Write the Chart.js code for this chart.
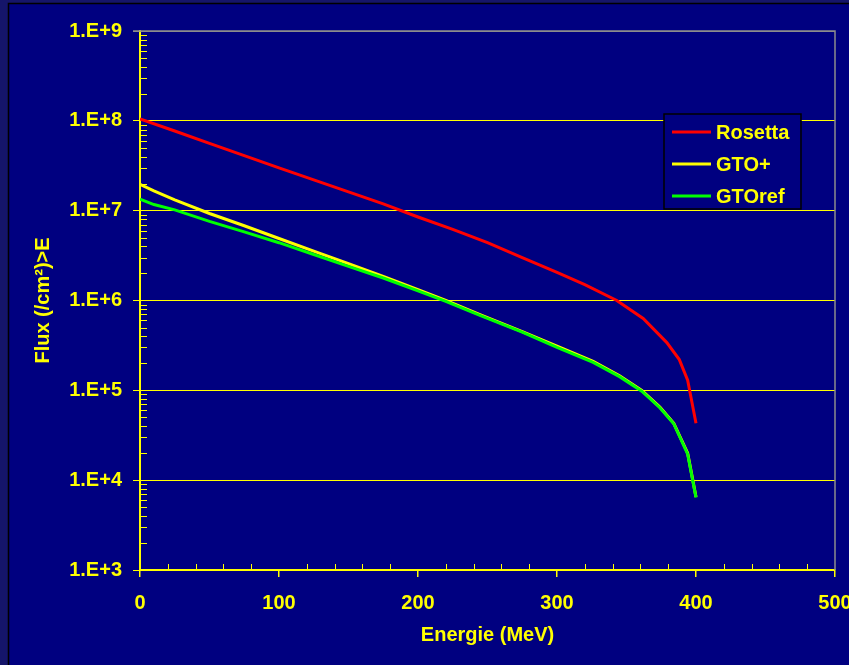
<!DOCTYPE html>
<html>
<head>
<meta charset="utf-8">
<script src="https://cdn.jsdelivr.net/npm/chart.js@4.4.0/dist/chart.umd.min.js"></script>
<style>
    html, body { margin: 0; padding: 0; background: #000080; }
    #wrap { width: 849px; height: 665px; }
</style>
</head>
<body>
<div id="wrap"><canvas id="chart" width="849" height="665"></canvas></div>
<script>
// Energy (MeV) and integral flux (/cm2 > E)
const rosettaEnergy = [0, 25, 50, 75, 100, 125, 150, 175, 200, 225, 250, 275, 300, 320, 343, 362, 379, 388, 394, 400];
const rosettaFlux = [1.05e8, 7.7e7, 5.6e7, 4.1e7, 3.0e7, 2.2e7, 1.62e7, 1.19e7, 8.5e6, 6.2e6, 4.4e6, 3.0e6, 2.05e6, 1.5e6, 1.0e6, 6.3e5, 3.4e5, 2.2e5, 1.3e5, 4.3e4];

const gtoEnergy = [0, 10, 25, 50, 75, 100, 125, 150, 175, 200, 220, 245, 275, 300, 326, 345, 361, 374, 384, 394, 400];
const gtoPlusFlux = [1.96e7, 1.66e7, 1.32e7, 9.3e6, 6.8e6, 4.9e6, 3.55e6, 2.57e6, 1.86e6, 1.32e6, 1.0e6, 6.9e5, 4.5e5, 3.1e5, 2.1e5, 1.45e5, 1.0e5, 6.5e4, 4.3e4, 2.0e4, 6.5e3];
const gtoRefFlux = [1.34e7, 1.17e7, 1.02e7, 7.6e6, 5.8e6, 4.4e6, 3.25e6, 2.4e6, 1.78e6, 1.28e6, 9.8e5, 6.8e5, 4.45e5, 3.0e5, 2.05e5, 1.42e5, 9.8e4, 6.4e4, 4.25e4, 1.95e4, 6.4e3];

const seriesNames = ['Rosetta', 'GTO+', 'GTOref'];
const seriesColors = ['#FF0000', '#FFFF00', '#00FF00'];

const yTickValues = [1e3, 1e4, 1e5, 1e6, 1e7, 1e8, 1e9];
const xMin = 0, xMax = 500, xStep = 100;

const FONT = '"Liberation Sans", Arial, sans-serif';
const YELLOW = '#FFFF00';

function toPoints(xs, ys) {
    return xs.map((x, i) => ({ x: x, y: ys[i] }));
}

// Outer slide-like frame behind the chart
const framePlugin = {
    id: 'frame',
    beforeDraw(chart) {
        const ctx = chart.ctx;
        ctx.save();
        ctx.fillStyle = '#15156A';
        ctx.fillRect(0, 0, chart.width, chart.height);
        ctx.fillStyle = '#000080';
        ctx.fillRect(8, 3, chart.width - 8, chart.height - 3);
        ctx.strokeStyle = '#000000';
        ctx.lineWidth = 1.5;
        ctx.beginPath();
        ctx.moveTo(8.5, chart.height);
        ctx.lineTo(8.5, 3.5);
        ctx.lineTo(chart.width, 3.5);
        ctx.stroke();
        ctx.restore();
    }
};

// Grey top/right border, inner minor ticks and the legend box
const extrasPlugin = {
    id: 'extras',
    afterDraw(chart) {
        const ctx = chart.ctx;
        const area = chart.chartArea;
        const xs = chart.scales.x;
        const ys = chart.scales.y;
        ctx.save();

        ctx.strokeStyle = '#8C8C8C';
        ctx.lineWidth = 1.5;
        ctx.beginPath();
        ctx.moveTo(area.left - 7, area.top);
        ctx.lineTo(area.right, area.top);
        ctx.lineTo(area.right, area.bottom);
        ctx.stroke();

        // minor ticks inside the plot
        ctx.strokeStyle = YELLOW;
        ctx.lineWidth = 1;
        ctx.beginPath();
        for (let n = 3; n < 9; n++) {
            for (let k = 2; k <= 9; k++) {
                const py = Math.round(ys.getPixelForValue(k * Math.pow(10, n))) + 0.5;
                ctx.moveTo(area.left + 1, py);
                ctx.lineTo(area.left + 7, py);
            }
        }
        for (let v = 20; v < xMax; v += 20) {
            if (v % 100 === 0) continue;
            const px = Math.round(xs.getPixelForValue(v)) + 0.5;
            ctx.moveTo(px, area.bottom);
            ctx.lineTo(px, area.bottom - 6);
        }
        ctx.stroke();

        // legend
        const lx = 664, ly = 114, lw = 137, lh = 95;
        ctx.fillStyle = '#000080';
        ctx.fillRect(lx, ly, lw, lh);
        ctx.strokeStyle = '#000000';
        ctx.lineWidth = 1.5;
        ctx.strokeRect(lx, ly, lw, lh);
        ctx.font = 'bold 20px ' + FONT;
        ctx.textBaseline = 'middle';
        chart.data.datasets.forEach((ds, i) => {
            const ry = 132 + i * 32;
            ctx.strokeStyle = ds.borderColor;
            ctx.lineWidth = 3;
            ctx.beginPath();
            ctx.moveTo(672, ry);
            ctx.lineTo(711, ry);
            ctx.stroke();
            ctx.fillStyle = YELLOW;
            ctx.fillText(ds.label, 716, ry + 1);
        });

        ctx.restore();
    }
};

const datasets = [
    toPoints(rosettaEnergy, rosettaFlux),
    toPoints(gtoEnergy, gtoPlusFlux),
    toPoints(gtoEnergy, gtoRefFlux)
].map((pts, i) => ({
    label: seriesNames[i],
    data: pts,
    borderColor: seriesColors[i],
    backgroundColor: seriesColors[i],
    borderWidth: 3,
    pointRadius: 0,
    tension: 0,
    fill: false
}));

// draw GTOref above GTO+ like the original
datasets[1].order = 2;
datasets[2].order = 1;
datasets[0].order = 0;

new Chart(document.getElementById('chart'), {
    type: 'line',
    data: { datasets: datasets },
    options: {
        responsive: false,
        animation: false,
        layout: { padding: { left: 10, right: 14, top: 31, bottom: 0 } },
        plugins: {
            legend: { display: false },
            tooltip: { enabled: false }
        },
        scales: {
            x: {
                type: 'linear',
                min: xMin,
                max: xMax,
                ticks: {
                    stepSize: xStep,
                    color: YELLOW,
                    font: { family: FONT, size: 20, weight: 'bold' },
                    padding: 14,
                    maxRotation: 0
                },
                grid: {
                    drawOnChartArea: false,
                    drawTicks: true,
                    tickLength: 7,
                    color: YELLOW,
                    tickColor: YELLOW,
                    lineWidth: 1.5
                },
                border: { color: YELLOW, width: 2 },
                title: {
                    display: true,
                    text: 'Energie (MeV)',
                    color: YELLOW,
                    font: { family: FONT, size: 20, weight: 'bold' },
                    padding: { top: 0, bottom: 18 }
                },
                afterFit(scale) {
                    scale.height = 95;
                    scale.paddingLeft = 0;
                    scale.paddingRight = 0;
                }
            },
            y: {
                type: 'logarithmic',
                min: 1e3,
                max: 1e9,
                afterBuildTicks(scale) {
                    scale.ticks = yTickValues.map(v => ({ value: v, major: true }));
                },
                ticks: {
                    color: YELLOW,
                    font: { family: FONT, size: 20, weight: 'bold' },
                    padding: 11,
                    callback: v => '1.E+' + Math.round(Math.log10(v))
                },
                grid: {
                    color: ctx => ctx.tick && ctx.tick.value === 1e9 ? '#8C8C8C' : YELLOW,
                    tickColor: ctx => ctx.tick && ctx.tick.value === 1e9 ? '#8C8C8C' : YELLOW,
                    tickLength: 7,
                    lineWidth: 1
                },
                border: { color: YELLOW, width: 2 },
                title: {
                    display: true,
                    text: 'Flux (/cm²)>E',
                    color: YELLOW,
                    font: { family: FONT, size: 20, weight: 'bold' },
                    padding: { top: 21, bottom: 0 }
                },
                afterFit(scale) {
                    scale.width = 130;
                    scale.paddingTop = 0;
                    scale.paddingBottom = 0;
                }
            }
        }
    },
    plugins: [framePlugin, extrasPlugin]
});
</script>
</body>
</html>
